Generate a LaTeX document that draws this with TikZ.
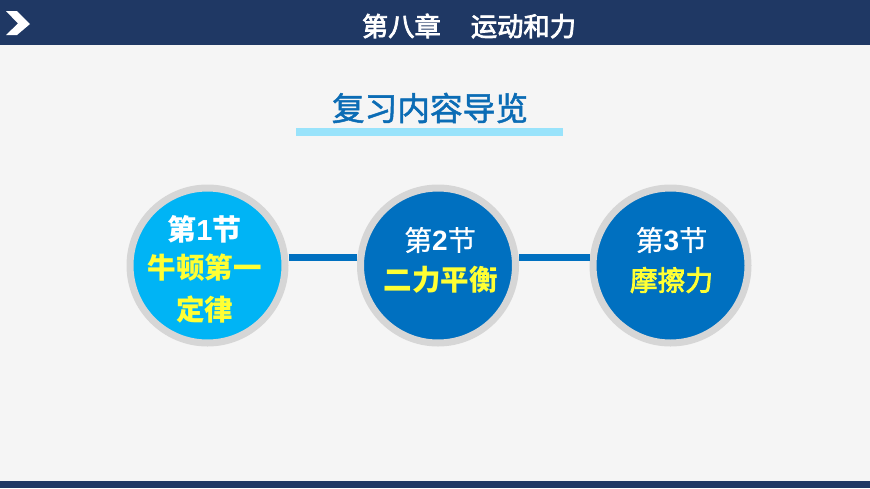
\documentclass[tikz,border=0pt]{standalone}
\usepackage{fontspec}
\setmainfont{Noto Sans CJK SC}
\newfontfamily\digitfont{Liberation Sans}
\newfontfamily\heavyfont[FakeBold=2.8]{Noto Sans CJK SC}
\newfontfamily\semifont[FakeBold=1.5]{Noto Sans CJK SC}
\newfontfamily\lightsemi[FakeBold=0.7]{Noto Sans CJK SC}
\definecolor{bar}{HTML}{1F3864}
\definecolor{page}{HTML}{F5F5F5}
\definecolor{ring}{HTML}{D6D6D6}
\definecolor{deep}{HTML}{0070C0}
\definecolor{sky}{HTML}{00B4F5}
\definecolor{rule}{HTML}{99E3FB}
\definecolor{titleblue}{HTML}{0B6CB5}
\definecolor{lemon}{HTML}{FFFF33}
\tikzset{
  x=1pt,y=-1pt,
  disc/.style={circle,draw=ring,line width=7pt,minimum size=155pt,inner sep=0pt},
  sectxt/.style={text=white,inner sep=0pt,anchor=center},
  topic/.style={text=lemon,inner sep=0pt,anchor=center,font=\fontsize{28.5}{30}\selectfont\bfseries},
  link/.style={draw=deep,line width=7pt}
}
\begin{document}
\begin{tikzpicture}
\useasboundingbox (0,0) rectangle (870,488);
\fill[page] (0,0) rectangle (870,488);
\fill[bar] (0,0) rectangle (870,45);
\fill[bar] (0,481) rectangle (870,488);
\fill[white] (6,11) -- (17,11) -- (30,24) -- (17,35) -- (6,35) -- (18,23.5) -- cycle;
\node[text=white,inner sep=0pt] (head) at (469,26) {\fontsize{26.3}{28}\selectfont\heavyfont 第八章\hspace{30pt}运动和力};
\node[text=titleblue,inner sep=0pt] (title) at (430,108) {\fontsize{32.7}{36}\selectfont\semifont 复习内容导览};
\fill[rule] (296,128) rectangle (563,135.5);
\node[disc,fill=sky] (a) at (207.5,265.5) {};
\node[disc,fill=deep] (b) at (438,265.5) {};
\node[disc,fill=deep] (c) at (670.5,265.5) {};
\coordinate (ly) at (0,257.7);
\draw[link] (a.east |- ly) -- (b.west |- ly);
\draw[link] (b.east |- ly) -- (c.west |- ly);
\node[sectxt] (a1) at (204.5,229) {\fontsize{29}{30}\selectfont\bfseries 第{\digitfont 1}节};
\node[topic] (a2) at (204.5,268) {牛顿第一};
\node[topic] (a3) at (204.5,309) {定律};
\node[sectxt] (b1) at (440,240) {\fontsize{28}{30}\selectfont\lightsemi 第{\digitfont\bfseries 2}节};
\node[topic] (b2) at (440.5,280) {二力平衡};
\node[sectxt] (c1) at (671.5,240) {\fontsize{28}{30}\selectfont\lightsemi 第{\digitfont\bfseries 3}节};
\node[topic,font=\fontsize{27.7}{30}\selectfont\heavyfont] (c2) at (671.5,280) {摩擦力};
\end{tikzpicture}
\end{document}
